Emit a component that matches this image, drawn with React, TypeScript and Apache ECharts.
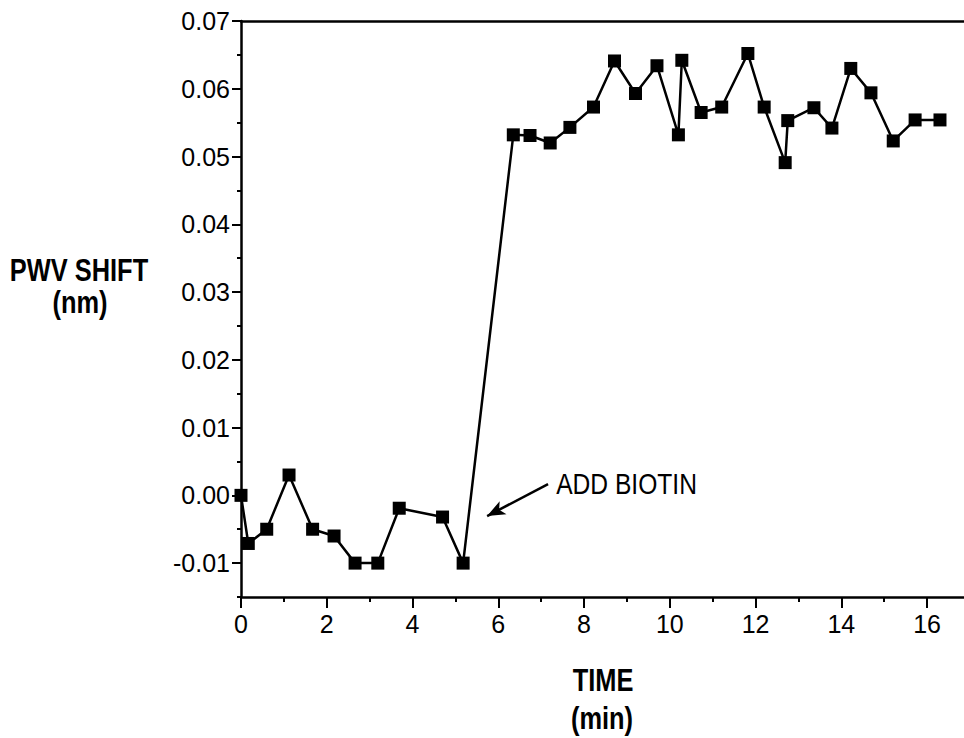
import React, { useEffect, useRef } from "react";
import * as echarts from "echarts";

const timeMin = [0, 0.17, 0.6, 1.12, 1.67, 2.17, 2.66, 3.19, 3.69, 4.7, 5.18, 6.35, 6.74, 7.21, 7.67, 8.22, 8.71, 9.2, 9.7, 10.2, 10.28, 10.73, 11.21, 11.82, 12.2, 12.69, 12.75, 13.36, 13.78, 14.22, 14.69, 15.21, 15.72, 16.3];
const pwvShift = [0.0, -0.0071, -0.005, 0.003, -0.005, -0.006, -0.01, -0.01, -0.0019, -0.0032, -0.01, 0.0532, 0.0531, 0.052, 0.0543, 0.0573, 0.0641, 0.0593, 0.0634, 0.0532, 0.0642, 0.0565, 0.0573, 0.0652, 0.0573, 0.0491, 0.0553, 0.0572, 0.0542, 0.063, 0.0594, 0.0523, 0.0554, 0.0554];

const xMajorTicks = [0, 2, 4, 6, 8, 10, 12, 14, 16];
const xMinorTicks = [1, 3, 5, 7, 9, 11, 13, 15];
const yMajorTicks = [-0.01, 0, 0.01, 0.02, 0.03, 0.04, 0.05, 0.06, 0.07];
const yMinorTicks = [-0.015, -0.005, 0.005, 0.015, 0.025, 0.035, 0.045, 0.055, 0.065];

const annotationText = "ADD BIOTIN";
const arrowFrom = [7.16, 0.00167];
const arrowTo = [5.74, -0.00305];
const annotationAt = [7.35, 0.00174];

const FONT = "'Liberation Sans', Arial, sans-serif";
const NARROW = 0.82;

export default function App() {
  const ref = useRef<HTMLDivElement>(null);
  useEffect(() => {
    document.body.style.margin = "0";
    const chart = echarts.init(ref.current!, null, { renderer: "svg" });
    const X_MIN = 0, X_MAX = 16.86, Y_MIN = -0.015, Y_MAX = 0.07;
    const axisLineStyle = { color: "#000", width: 2.5 };
    const titleText = (text: string, x: number, y: number) => ({
      type: "text", x, y, scaleX: NARROW,
      style: { text, fill: "#000", font: `bold 31px ${FONT}`, align: "center", verticalAlign: "middle" },
    });
    chart.setOption({
      animation: false,
      backgroundColor: "#fff",
      grid: { left: 241, top: 21, right: 0, bottom: 141, containLabel: false },
      xAxis: [
        {
          type: "value", min: X_MIN, max: X_MAX, position: "bottom",
          axisLine: { show: true, onZero: false, lineStyle: axisLineStyle },
          axisTick: { show: true, length: 11, customValues: xMajorTicks, lineStyle: { color: "#000", width: 2 } },
          axisLabel: { show: true, customValues: xMajorTicks, margin: 14, color: "#000", fontSize: 25, fontFamily: FONT, formatter: (v: number) => String(Math.round(v)) },
          splitLine: { show: false },
        },
        {
          type: "value", min: X_MIN, max: X_MAX, position: "bottom",
          axisLine: { show: false, onZero: false },
          axisTick: { show: true, length: 5, customValues: xMinorTicks, lineStyle: { color: "#000", width: 2 } },
          axisLabel: { show: false },
          splitLine: { show: false },
        },
        {
          type: "value", min: X_MIN, max: X_MAX, position: "top",
          axisLine: { show: true, onZero: false, lineStyle: axisLineStyle },
          axisTick: { show: false }, axisLabel: { show: false }, splitLine: { show: false },
        },
      ],
      yAxis: [
        {
          type: "value", min: Y_MIN, max: Y_MAX, position: "left",
          axisLine: { show: true, onZero: false, lineStyle: axisLineStyle },
          axisTick: { show: true, length: 9, customValues: yMajorTicks, lineStyle: { color: "#000", width: 2 } },
          axisLabel: { show: true, customValues: yMajorTicks, margin: 11, color: "#000", fontSize: 25, fontFamily: FONT, formatter: (v: number) => v.toFixed(2) },
          splitLine: { show: false },
        },
        {
          type: "value", min: Y_MIN, max: Y_MAX, position: "left",
          axisLine: { show: false, onZero: false },
          axisTick: { show: true, length: 4, customValues: yMinorTicks, lineStyle: { color: "#000", width: 2 } },
          axisLabel: { show: false }, splitLine: { show: false },
        },
      ],
      series: [
        {
          type: "line",
          xAxisIndex: 0, yAxisIndex: 0,
          data: timeMin.map((t, i) => [t, pwvShift[i]]),
          symbol: "rect", symbolSize: 13,
          itemStyle: { color: "#000" },
          lineStyle: { color: "#000", width: 2.5 },
          markLine: {
            silent: true,
            symbol: ["none", "arrow"],
            symbolSize: [11, 18],
            lineStyle: { color: "#000", width: 2.5, type: "solid" },
            label: { show: false },
            data: [[{ coord: arrowFrom }, { coord: arrowTo }]],
          },
        },
      ],
    });
    const p = chart.convertToPixel({ xAxisIndex: 0, yAxisIndex: 0 }, annotationAt) as number[];
    chart.setOption({
      graphic: [
        titleText("PWV SHIFT", 79, 270),
        titleText("(nm)", 80, 302),
        titleText("TIME", 603, 680),
        titleText("(min)", 602, 718),
        {
          type: "text", x: p[0], y: p[1], scaleX: NARROW,
          style: { text: annotationText, fill: "#000", font: `30px ${FONT}`, align: "left", verticalAlign: "middle" },
        },
      ],
    });
    return () => chart.dispose();
  }, []);
  return <div ref={ref} style={{ width: 964, height: 738 }} />;
}
